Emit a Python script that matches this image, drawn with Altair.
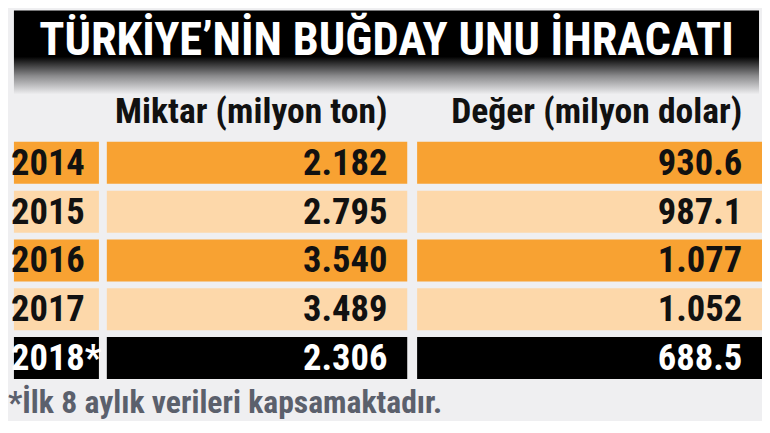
import altair as alt
import pandas as pd

title_text = "TÜRKİYE’NİN BUĞDAY UNU İHRACATI"
header_miktar = "Miktar (milyon ton)"
header_deger = "Değer (milyon dolar)"
footnote = "*İlk 8 aylık verileri kapsamaktadır."

years = ["2014", "2015", "2016", "2017", "2018*"]
miktar = ["2.182", "2.795", "3.540", "3.489", "2.306"]
deger = ["930.6", "987.1", "1.077", "1.052", "688.5"]
row_style = ["dark", "light", "dark", "light", "black"]

df = pd.DataFrame({"year": years, "miktar": miktar, "deger": deger, "style": row_style})

FONT = "Roboto Condensed"
BG = "#EFEFF1"
fill_scale = alt.Scale(domain=["dark", "light", "black"], range=["#F8A232", "#FDD8AA", "#000000"])
text_scale = alt.Scale(domain=["dark", "light", "black"], range=["#111111", "#111111", "#FFFFFF"])
y_enc = alt.Y("year:N", sort=years, axis=None,
              scale=alt.Scale(paddingInner=0.14, paddingOuter=0))

HEAD_SIZE = 36
VAL_SIZE = 37


def panel(field, width, header=None, align="right"):
    base = alt.Chart(df)
    rect = base.mark_rect().encode(
        x=alt.value(0), x2=alt.value(width),
        y=y_enc,
        color=alt.Color("style:N", scale=fill_scale, legend=None),
    )
    if align == "right":
        txt = base.mark_text(align="right", baseline="middle", fontSize=VAL_SIZE, font=FONT,
                             fontWeight="bold", dx=-20, dy=1).encode(
            x=alt.value(width), y=y_enc, text=f"{field}:N",
            color=alt.Color("style:N", scale=text_scale, legend=None))
    else:
        txt = base.mark_text(align="left", baseline="middle", fontSize=VAL_SIZE, font=FONT,
                             fontWeight="bold", dx=-3, dy=1).encode(
            x=alt.value(0), y=y_enc, text=f"{field}:N",
            color=alt.Color("style:N", scale=text_scale, legend=None))
    props = dict(width=width, height=240)
    if header:
        props["title"] = alt.TitleParams(header, anchor="end", dx=-20, fontSize=HEAD_SIZE, font=FONT,
                                         fontWeight="bold", color="#111111", offset=11)
    else:
        props["title"] = alt.TitleParams(" ", fontSize=HEAD_SIZE, font=FONT, fontWeight="bold",
                                         offset=11)
    return alt.layer(rect, txt).properties(**props).resolve_scale(color="independent")


year_panel = panel("year", 86, None, align="left")
miktar_panel = panel("miktar", 304, header_miktar)
deger_panel = panel("deger", 349, header_deger)

table = alt.hconcat(
    alt.hconcat(year_panel, miktar_panel, spacing=5),
    deger_panel,
    spacing=10,
).properties(
    title=alt.TitleParams(footnote, orient="bottom", anchor="start", fontSize=32, font=FONT,
                          fontWeight="bold", color="#5B606C", offset=9, dx=-3)
)

banner_df = pd.DataFrame({"t": [title_text]})
grad = alt.Gradient(
    gradient="linear", x1=0, y1=0, x2=0, y2=1,
    stops=[alt.GradientStop(color="#000000", offset=0),
           alt.GradientStop(color="#000000", offset=0.55),
           alt.GradientStop(color="#8A8A8C", offset=0.78),
           alt.GradientStop(color=BG, offset=1)],
)
banner_rect = alt.Chart(banner_df).mark_rect(color=grad).encode(
    x=alt.value(0), x2=alt.value(754), y=alt.value(0), y2=alt.value(85))
banner_text = alt.Chart(banner_df).mark_text(
    fontSize=47, font=FONT, fontWeight="bold", color="#FFFFFF", align="center", baseline="middle"
).encode(x=alt.value(377), y=alt.value(31), text="t:N")
banner = alt.layer(banner_rect, banner_text).properties(width=754, height=85)

chart = alt.vconcat(banner, table, spacing=0, padding=0).configure(
    background=BG
).configure_view(stroke=None)

chart.save("out.html", embed_options={"renderer": "svg", "actions": False})
